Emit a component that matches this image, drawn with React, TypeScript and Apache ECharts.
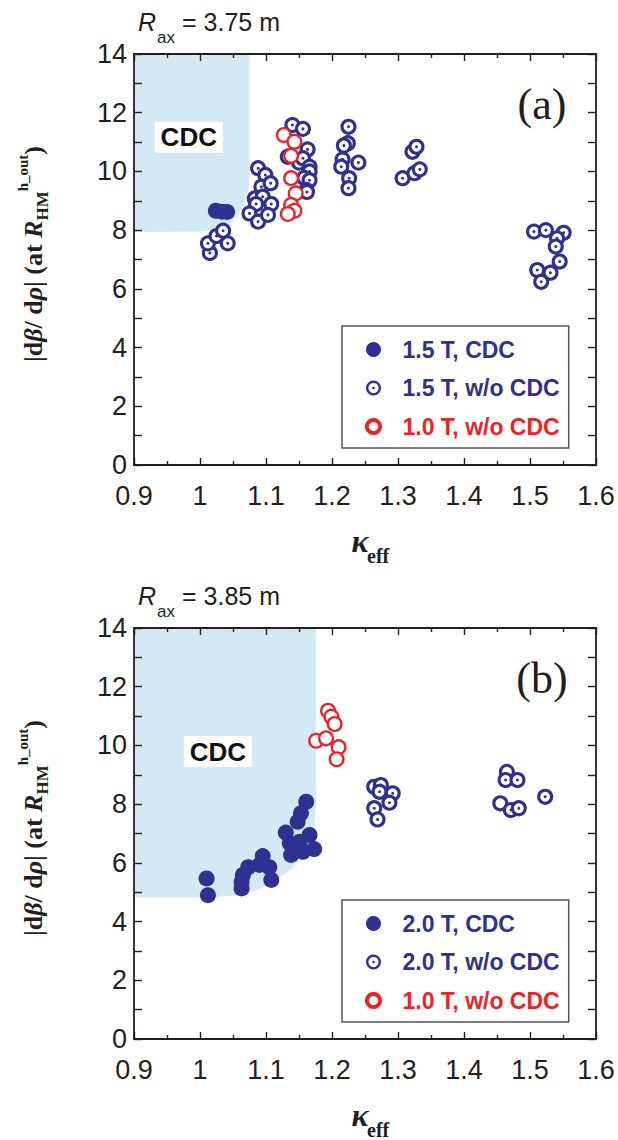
import React, { useEffect, useRef } from 'react';
import * as echarts from 'echarts';

// ---------- data ----------
const X_MIN = 0.9, X_MAX = 1.6, X_STEP = 0.1;
const Y_MIN = 0, Y_MAX = 14, Y_STEP = 2;

// Panel (a): R_ax = 3.75 m
const regionA: [number, number][] = [
  [0.9, 14], [1.075, 14], [1.075, 9.9], [1.074, 9.5], [1.07, 9.1], [1.064, 8.75],
  [1.055, 8.45], [1.043, 8.2], [1.025, 8.03], [1.0, 7.95], [0.9, 7.94],
];
const a15CDC: [number, number][] = [[1.024, 8.66], [1.033, 8.63], [1.041, 8.62]];
const a15woCDC: [number, number][] = [
  [1.015, 7.22], [1.012, 7.55], [1.025, 7.8], [1.035, 7.98], [1.042, 7.55],
  [1.088, 10.11], [1.099, 9.88], [1.093, 9.48], [1.107, 9.6], [1.083, 9.08], [1.095, 9.14],
  [1.108, 8.89], [1.085, 8.89], [1.075, 8.57], [1.088, 8.29], [1.103, 8.52],
  [1.133, 10.5], [1.15, 10.3], [1.14, 11.58], [1.156, 11.45], [1.163, 10.75], [1.156, 10.45],
  [1.166, 10.16], [1.166, 10.0], [1.158, 9.78], [1.166, 9.7], [1.161, 9.37], [1.162, 9.3],
  [1.225, 11.52], [1.224, 10.96], [1.218, 10.88], [1.216, 10.41], [1.24, 10.3], [1.214, 10.16],
  [1.226, 9.77], [1.225, 9.43],
  [1.322, 10.67], [1.328, 10.84], [1.307, 9.77], [1.325, 9.94], [1.333, 10.07],
  [1.506, 7.95], [1.524, 8.0], [1.551, 7.91], [1.541, 7.72], [1.539, 7.44], [1.545, 6.93],
  [1.511, 6.64], [1.531, 6.55], [1.517, 6.24],
];
const a10woCDC: [number, number][] = [
  [1.127, 11.24], [1.143, 11.01], [1.138, 10.53], [1.138, 9.77], [1.145, 9.25],
  [1.138, 8.86], [1.143, 8.66], [1.133, 8.55],
];
const cdcLabelA: [number, number][] = [[0.983, 11.16]];

// Panel (b): R_ax = 3.85 m
const regionB: [number, number][] = [
  [0.9, 14], [1.176, 14], [1.176, 8.0], [1.173, 7.3], [1.167, 6.75], [1.155, 6.25],
  [1.138, 5.8], [1.115, 5.4], [1.09, 5.1], [1.06, 4.9], [1.02, 4.83], [0.9, 4.83],
];
const b20CDC: [number, number][] = [
  [1.161, 8.08], [1.153, 7.69], [1.148, 7.4], [1.13, 7.03], [1.166, 6.95], [1.136, 6.67],
  [1.151, 6.72], [1.173, 6.47], [1.138, 6.27], [1.156, 6.38], [1.146, 6.5],
  [1.095, 6.23], [1.105, 5.85], [1.09, 5.93], [1.073, 5.85], [1.065, 5.59], [1.063, 5.36],
  [1.063, 5.13], [1.108, 5.42], [1.01, 5.47], [1.012, 4.9],
];
const b20woCDC: [number, number][] = [
  [1.264, 8.59], [1.274, 8.65], [1.292, 8.37], [1.272, 8.42], [1.287, 8.05], [1.264, 7.86],
  [1.269, 7.48],
  [1.465, 9.1], [1.463, 8.82], [1.481, 8.82], [1.455, 8.03], [1.471, 7.8], [1.483, 7.86],
  [1.523, 8.25],
];
const b10woCDC: [number, number][] = [
  [1.194, 11.18], [1.199, 10.98], [1.204, 10.73], [1.176, 10.16], [1.191, 10.24],
  [1.21, 9.94], [1.207, 9.53],
];
const cdcLabelB: [number, number][] = [[1.027, 9.79]];

const namesA = ['1.5 T, CDC', '1.5 T, w/o CDC', '1.0 T, w/o CDC'];
const namesB = ['2.0 T, CDC', '2.0 T, w/o CDC', '1.0 T, w/o CDC'];
const raxA = '= 3.75 m';
const raxB = '= 3.85 m';

// ---------- style ----------
const BLUE = '#2e3192';
const RED = '#ec2227';
const AX = '#231f20';
const CDC_FILL = '#d3e9f3';
const GRID_LEFT = 134;
const GRID_W = 462;
const GRID_H = 411;
const TOPS = [54, 628];

const DOT_ICON = 'path://M10,0A10,10,0,1,1,9.99,0ZM10,3.2A6.8,6.8,0,1,0,10.01,3.2ZM10,8.3A1.7,1.7,0,1,1,9.99,8.3Z';
const RING_ICON = 'path://M10,0A10,10,0,1,1,9.99,0ZM10,2.5A7.5,7.5,0,1,0,10.01,2.5Z';

function xAxis(gridIndex: number, position: 'bottom' | 'top') {
  return {
    type: 'value', gridIndex, position, min: X_MIN, max: X_MAX, interval: X_STEP, z: 5,
    axisLine: { show: true, onZero: false, lineStyle: { color: AX, width: 1.8 } },
    axisTick: { show: true, inside: true, length: 7, lineStyle: { color: AX, width: 1.4 } },
    minorTick: { show: true, splitNumber: 2, length: 4, lineStyle: { color: AX, width: 1.4 } },
    splitLine: { show: false }, minorSplitLine: { show: false },
    axisLabel: {
      show: position === 'bottom', fontSize: 27, color: AX, fontFamily: 'Liberation Sans', margin: 17,
      formatter: (v: number) => String(+v.toFixed(1)),
    },
  };
}
function yAxis(gridIndex: number, position: 'left' | 'right') {
  return {
    type: 'value', gridIndex, position, min: Y_MIN, max: Y_MAX, interval: Y_STEP, z: 5,
    axisLine: { show: true, onZero: false, lineStyle: { color: AX, width: 1.8 } },
    axisTick: { show: true, inside: true, length: 8, lineStyle: { color: AX, width: 1.4 } },
    minorTick: { show: true, splitNumber: 2, length: 8, lineStyle: { color: AX, width: 1.4 } },
    splitLine: { show: false }, minorSplitLine: { show: false },
    axisLabel: { show: position === 'left', fontSize: 27, color: AX, fontFamily: 'Liberation Sans', margin: 7 },
  };
}

function panelSeries(p: number, region: [number, number][], filled: [number, number][],
  dotted: [number, number][], red: [number, number][], label: [number, number][], names: string[]) {
  const xi = 2 * p, yi = 2 * p;
  return [
    {
      type: 'custom', xAxisIndex: xi, yAxisIndex: yi, data: region, silent: true, z: 1,
      renderItem: (params: any, api: any) => {
        if (params.dataIndex !== 0) return null;
        const pts = region.map((q) => api.coord(q));
        return { type: 'polygon', shape: { points: pts, smooth: 0 }, style: { fill: CDC_FILL } };
      },
    },
    {
      type: 'scatter', xAxisIndex: xi, yAxisIndex: yi, data: label, symbol: 'rect', symbolSize: [68, 31],
      itemStyle: { color: '#ffffff', opacity: 1 }, silent: true, z: 2,
      label: { show: true, position: 'inside', formatter: 'CDC', fontSize: 26, fontWeight: 'bold', color: '#111111', fontFamily: 'Liberation Sans' },
    },
    {
      type: 'custom', name: names[1], xAxisIndex: xi, yAxisIndex: yi, data: dotted, z: 3, silent: true,
      itemStyle: { color: BLUE },
      renderItem: (params: any, api: any) => {
        const c = api.coord([api.value(0), api.value(1)]);
        return {
          type: 'group', children: [
            { type: 'circle', shape: { cx: c[0], cy: c[1], r: 6.5 }, style: { fill: '#ffffff', stroke: BLUE, lineWidth: 3.1 } },
            { type: 'circle', shape: { cx: c[0], cy: c[1], r: 1.5 }, style: { fill: BLUE } },
          ],
        };
      },
    },
    {
      type: 'scatter', name: names[2], xAxisIndex: xi, yAxisIndex: yi, data: red, symbol: 'circle', symbolSize: 13.7,
      itemStyle: { color: '#ffffff', borderColor: RED, borderWidth: 2.3, opacity: 1 }, z: 4, silent: true,
    },
    {
      type: 'scatter', name: names[0], xAxisIndex: xi, yAxisIndex: yi, data: filled, symbol: 'circle', symbolSize: 16,
      itemStyle: { color: BLUE, opacity: 1 }, z: 4, silent: true,
    },
  ];
}

function legend(p: number, names: string[]) {
  return {
    orient: 'vertical', left: 342, top: TOPS[p] + 272, padding: [12, 9, 10, 23],
    itemWidth: 48, itemHeight: 15, itemGap: 15.5, selectedMode: false,
    borderColor: '#555555', borderWidth: 1.5, backgroundColor: '#ffffff',
    textStyle: { fontSize: 23, fontWeight: 'bold', fontFamily: 'Liberation Sans', lineHeight: 22 },
    data: [
      { name: names[0], icon: 'circle', itemStyle: { color: BLUE, opacity: 1 }, textStyle: { color: BLUE } },
      { name: names[1], icon: DOT_ICON, itemStyle: { color: BLUE, opacity: 1 }, textStyle: { color: BLUE } },
      { name: names[2], icon: RING_ICON, itemStyle: { color: RED, opacity: 1 }, textStyle: { color: RED } },
    ],
  };
}

function texts(p: number, rax: string, tag: string) {
  const t = TOPS[p];
  const d = t - TOPS[0];
  const serif = 'Liberation Serif';
  const rs = (extra: any) => ({ fontFamily: serif, fontWeight: 'bold', fill: AX, ...extra });
  return [
    { type: 'text', x: 138, y: 22 + d, style: { text: 'R', fontSize: 25, fontStyle: 'italic', fontFamily: 'Liberation Sans', fill: AX, verticalAlign: 'middle' } },
    { type: 'text', x: 157, y: 37 + d, style: { text: 'ax', fontSize: 17, fontFamily: 'Liberation Sans', fill: AX, verticalAlign: 'middle' } },
    { type: 'text', x: 182, y: 22 + d, style: { text: rax, fontSize: 25, fontFamily: 'Liberation Sans', fill: AX, verticalAlign: 'middle' } },
    { type: 'text', x: 542, y: t + 50, style: { text: tag, fontSize: 44, fontFamily: serif, fill: AX, align: 'center', verticalAlign: 'middle' } },
    {
      type: 'text', x: 33, y: t + 200, rotation: Math.PI / 2,
      style: {
        text: '{m||d}{i|β}{m|/ d}{i|ρ}{m|| (at }{i|R}{s|HM}{p|h_out}{m|)}',
        align: 'center', verticalAlign: 'middle', fill: AX, fontFamily: serif, fontWeight: 'bold', fontSize: 25,
        rich: {
          m: rs({ fontSize: 26, lineHeight: 36 }),
          i: rs({ fontSize: 26, lineHeight: 36, fontStyle: 'italic' }),
          s: rs({ fontSize: 17, lineHeight: 16, verticalAlign: 'bottom' }),
          p: rs({ fontSize: 15, lineHeight: 14, verticalAlign: 'top' }),
        },
      },
    },
    { type: 'text', x: 360, y: t + GRID_H + 76, style: { text: 'κ', fontSize: 32, fontStyle: 'italic', fontWeight: 'bold', fontFamily: serif, fill: AX, align: 'center', verticalAlign: 'middle' } },
    { type: 'text', x: 367, y: t + GRID_H + 91, style: { text: 'eff', fontSize: 20, fontWeight: 'bold', fontFamily: serif, fill: AX, verticalAlign: 'middle' } },
  ];
}

export default function App() {
  const ref = useRef<HTMLDivElement>(null);
  useEffect(() => {
    if (!ref.current) return;
    const chart = echarts.init(ref.current, undefined, { renderer: 'svg' });
    const option: any = {
      animation: false,
      backgroundColor: '#ffffff',
      grid: TOPS.map((top) => ({ left: GRID_LEFT, top, width: GRID_W, height: GRID_H })),
      xAxis: [xAxis(0, 'bottom'), xAxis(0, 'top'), xAxis(1, 'bottom'), xAxis(1, 'top')],
      yAxis: [yAxis(0, 'left'), yAxis(0, 'right'), yAxis(1, 'left'), yAxis(1, 'right')],
      legend: [legend(0, namesA), legend(1, namesB)],
      series: [
        ...panelSeries(0, regionA, a15CDC, a15woCDC, a10woCDC, cdcLabelA, namesA),
        ...panelSeries(1, regionB, b20CDC, b20woCDC, b10woCDC, cdcLabelB, namesB),
      ],
      graphic: [...texts(0, raxA, '(a)'), ...texts(1, raxB, '(b)')],
    };
    chart.setOption(option);
    return () => chart.dispose();
  }, []);
  return <div ref={ref} style={{ position: 'absolute', left: 0, top: 0, width: 618, height: 1140 }} />;
}
